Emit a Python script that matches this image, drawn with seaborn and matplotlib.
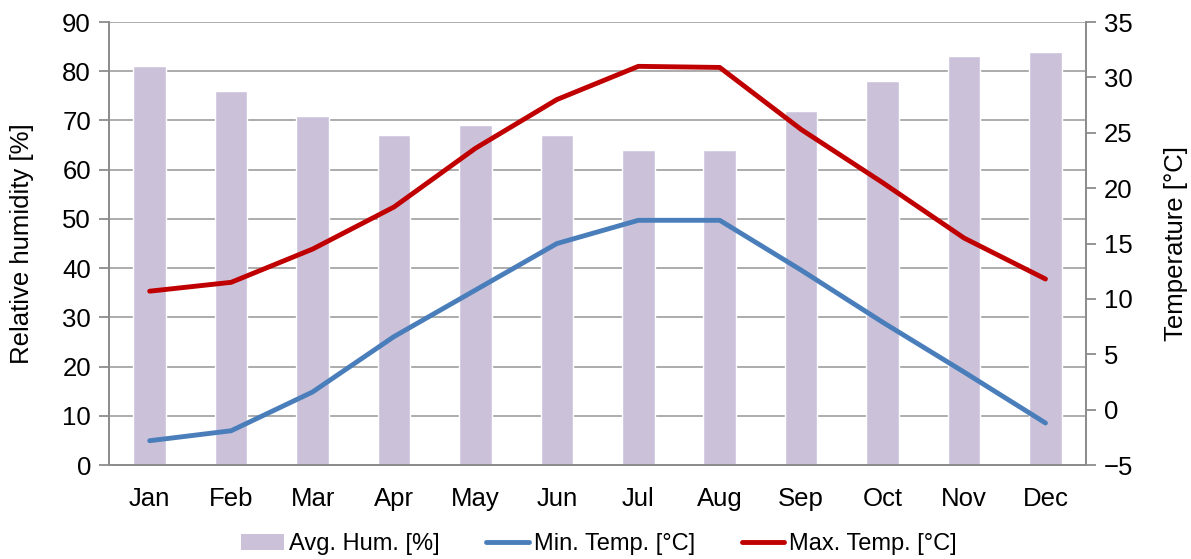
import numpy as np
import pandas as pd
import matplotlib
matplotlib.use("Agg")
import matplotlib.pyplot as plt
from matplotlib.patches import Patch
from matplotlib.lines import Line2D
import seaborn as sns

months = ["Jan", "Feb", "Mar", "Apr", "May", "Jun", "Jul", "Aug", "Sep", "Oct", "Nov", "Dec"]
avg_hum = [81, 76, 71, 67, 69, 67, 64, 64, 72, 78, 83, 84]
min_temp = [-2.8, -1.9, 1.6, 6.6, 10.8, 15.0, 17.1, 17.1, 12.6, 7.9, 3.4, -1.2]
max_temp = [10.7, 11.5, 14.5, 18.3, 23.6, 28.0, 31.0, 30.9, 25.3, 20.5, 15.5, 11.8]

hum_ticks = list(range(0, 91, 10))
temp_ticks = list(range(-5, 36, 5))

sns.set_style("white")
plt.rcParams["font.family"] = ["Liberation Sans", "DejaVu Sans"]
plt.rcParams["text.color"] = "black"
plt.rcParams["axes.labelcolor"] = "black"
plt.rcParams["xtick.labelcolor"] = "black"
plt.rcParams["ytick.labelcolor"] = "black"

bar_color = "#CBC2DA"
blue = "#4A7EBB"
red = "#C00000"
grid_color = "#A6A6A6"
axis_color = "#8C8C8C"
fs = 18.5

df = pd.DataFrame({"month": months, "hum": avg_hum, "tmin": min_temp, "tmax": max_temp})
df["pos"] = np.arange(len(months))

fig = plt.figure(figsize=(11.91, 5.59), dpi=100)
ax = fig.add_axes([0.0915, 0.168, 0.8205, 0.7926])

sns.barplot(data=df, x="month", y="hum", order=months, color=bar_color,
            saturation=1, width=0.4, ax=ax)
ax.set_ylim(0, 90)
ax.set_yticks(hum_ticks)
ax.set_xlim(-0.5, len(months) - 0.5)
ax.set_axisbelow(True)
ax.yaxis.grid(True, color=grid_color, linewidth=1.3)
ax.xaxis.grid(False)
ax.set_xlabel("")
ax.set_ylabel("Relative humidity [%]", fontsize=fs, labelpad=20)
ax.set_xticks(df["pos"])
ax.set_xticklabels(months)
ax.set_xticks(np.arange(-0.5, len(months)), minor=True)
ax.tick_params(axis="x", which="major", length=0, labelsize=fs, pad=16, labelcolor="black")
ax.tick_params(axis="x", which="minor", length=7, width=1.3, color=axis_color, direction="out")
ax.tick_params(axis="y", length=7, width=1.3, color=axis_color, direction="out", labelsize=fs, pad=6, labelcolor="black")
ax.spines["top"].set_visible(False)
for s in ["left", "bottom", "right"]:
    ax.spines[s].set_color(axis_color)
    ax.spines[s].set_linewidth(1.3)

ax2 = ax.twinx()
sns.lineplot(data=df, x="pos", y="tmin", color=blue, linewidth=3.5, ax=ax2, sort=False)
sns.lineplot(data=df, x="pos", y="tmax", color=red, linewidth=3.5, ax=ax2, sort=False)
ax2.set_ylim(-5, 35)
ax2.set_yticks(temp_ticks)
ax2.set_xlim(-0.5, len(months) - 0.5)
ax2.set_ylabel("Temperature [°C]", fontsize=fs, labelpad=22, color="black")
ax2.set_xlabel("")
ax2.tick_params(axis="y", length=7, width=1.3, color=axis_color, direction="out", labelsize=fs, pad=6, labelcolor="black")
ax2.spines["top"].set_visible(False)
for s in ["left", "bottom", "right"]:
    ax2.spines[s].set_color(axis_color)
    ax2.spines[s].set_linewidth(1.3)
ax2.grid(False)

handles = [
    Patch(facecolor=bar_color, edgecolor="none"),
    Line2D([0], [0], color=blue, linewidth=3.5),
    Line2D([0], [0], color=red, linewidth=3.5),
]
labels = ["Avg. Hum. [%]", "Min. Temp. [°C]", "Max. Temp. [°C]"]
fig.legend(handles, labels, loc="center", bbox_to_anchor=(0.503, 0.026), ncol=3,
           frameon=False, handlelength=1.8, handletextpad=0.2, columnspacing=2.0,
           labelcolor="black",
           prop={"family": ["Liberation Sans Narrow", "Liberation Sans"], "size": 17})

fig.savefig("out.png", dpi=100)
